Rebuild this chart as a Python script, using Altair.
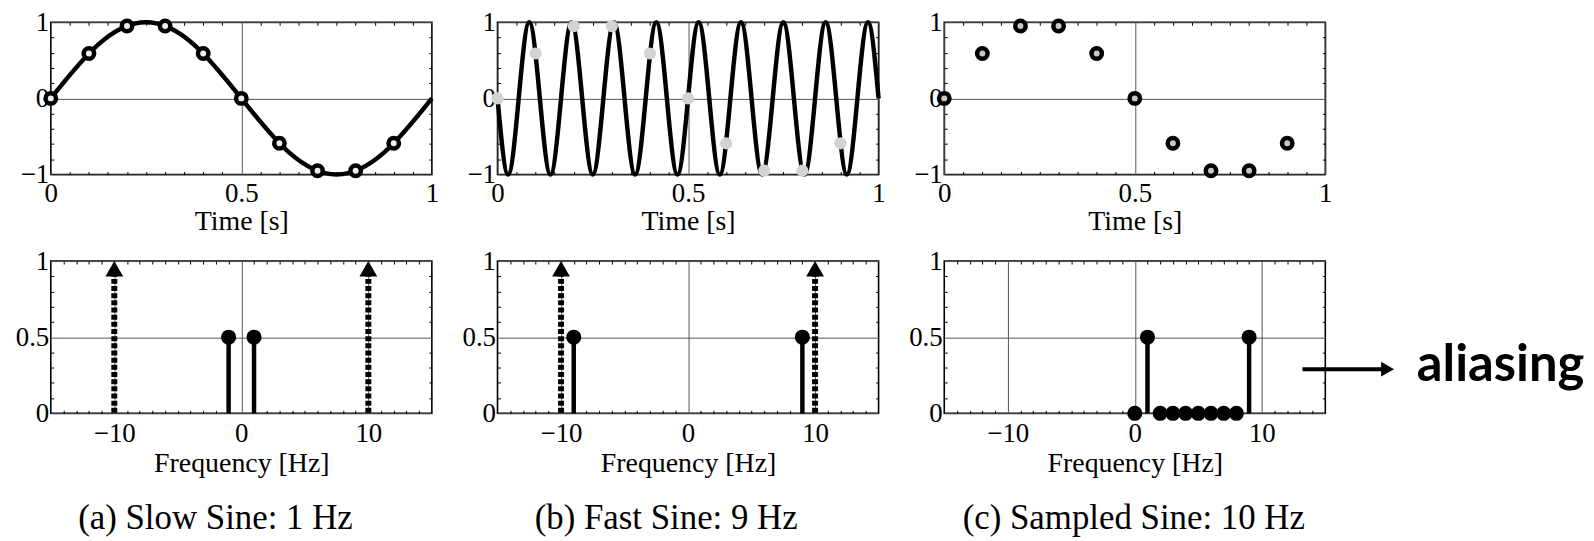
import altair as alt
import pandas as pd

# ---------------- data ----------------
# (a) slow 1 Hz sine, read at 1/8-period steps
t_slow = [0.0, 0.125, 0.25, 0.375, 0.5, 0.625, 0.75, 0.875, 1.0]
x_slow = [0.0, 0.71, 1.0, 0.71, 0.0, -0.71, -1.0, -0.71, 0.0]

# (b) fast 9 Hz sine, read at quarter-period steps
t_fast = [0.0, 0.0278, 0.0556, 0.0833, 0.1111, 0.1389, 0.1667, 0.1944, 0.2222, 0.25,
          0.2778, 0.3056, 0.3333, 0.3611, 0.3889, 0.4167, 0.4444, 0.4722, 0.5,
          0.5278, 0.5556, 0.5833, 0.6111, 0.6389, 0.6667, 0.6944, 0.7222, 0.75,
          0.7778, 0.8056, 0.8333, 0.8611, 0.8889, 0.9167, 0.9444, 0.9722, 1.0]
x_fast = [0, -1, 0, 1, 0, -1, 0, 1, 0, -1, 0, 1, 0, -1, 0, 1, 0, -1, 0,
          1, 0, -1, 0, 1, 0, -1, 0, 1, 0, -1, 0, 1, 0, -1, 0, 1, 0]

# samples taken every 0.1 s
t_samp = [0.0, 0.1, 0.2, 0.3, 0.4, 0.5, 0.6, 0.7, 0.8, 0.9]
x_samp = [0.0, 0.59, 0.95, 0.95, 0.59, 0.0, -0.59, -0.95, -0.95, -0.59]

# spectra
a_freq = [-1, 1]
a_amp = [0.5, 0.5]
b_freq = [-9, 9]
b_amp = [0.5, 0.5]
c_freq = [0, 1, 2, 3, 4, 5, 6, 7, 8, 9]
c_amp = [0, 0.5, 0, 0, 0, 0, 0, 0, 0, 0.5]

# sampling impulses (dotted arrows)
imp_freq = [-10, 10]
imp_top = [0.93, 0.93]
imp_head = [0.95, 0.95]

# annotation
arrow_x = [13.2]
arrow_x2 = [19.5]
arrow_y = [0.29]
arrow_head_x = [19.9]
note_text = ["aliasing"]
note_x = [22.2]
note_y = [0.21]

# axes
time_ticks = [0, 0.5, 1]
amp_ticks = [-1, 0, 1]
freq_ticks = [-10, 0, 10]
mag_ticks = [0, 0.5, 1]
time_minor = [0.05, 0.1, 0.15, 0.2, 0.25, 0.3, 0.35, 0.4, 0.45, 0.55, 0.6,
              0.65, 0.7, 0.75, 0.8, 0.85, 0.9, 0.95]
amp_minor = [-0.8, -0.6, -0.4, -0.2, 0.2, 0.4, 0.6, 0.8]
freq_minor = [-14, -13, -12, -11, -9, -8, -7, -6, -5, -4, -3, -2, -1,
              1, 2, 3, 4, 5, 6, 7, 8, 9, 11, 12, 13, 14]
mag_minor = [0.1, 0.2, 0.3, 0.4, 0.6, 0.7, 0.8, 0.9]

captions = ["(a) Slow Sine: 1 Hz", "(b) Fast Sine: 9 Hz", "(c) Sampled Sine: 10 Hz"]
caption_dx = [-26, -22, -1]

TIME_DOM = [0, 1]
AMP_DOM = [-1, 1]
FREQ_DOM = [-15, 15]
MAG_DOM = [0, 1]

W, H = 383, 153
SERIF = "Liberation Serif"
GRID = "#555555"


def sc(dom):
    return alt.Scale(domain=dom, nice=False, zero=False)


def main_x(values, title, fmt, lpad, tpad):
    return alt.Axis(orient="bottom", values=values, format=fmt, title=title,
                    grid=True, gridColor=GRID, gridWidth=1, ticks=False,
                    domain=False, labelFlush=False, labelOverlap=False,
                    labelPadding=lpad, titlePadding=tpad)


def main_y(values):
    return alt.Axis(orient="left", values=values, format="~g", title=None,
                    grid=True, gridColor=GRID, gridWidth=1, ticks=False,
                    domain=False, labelFlush=False, labelOverlap=False,
                    labelPadding=2)


def minor_axis(orient, values):
    return alt.Axis(orient=orient, values=values, labels=False, grid=False,
                    domain=False, ticks=True, tickSize=3, offset=-3,
                    tickColor="black", tickWidth=1, title=None)


def minor_layers(xdom, ydom, xminor, yminor):
    df = pd.DataFrame({"x": [xdom[0]], "y": [ydom[0]]})
    out = []
    for xo, yo in (("bottom", "left"), ("top", "right")):
        out.append(alt.Chart(df).mark_point(opacity=0).encode(
            x=alt.X("x:Q", scale=sc(xdom), axis=minor_axis(xo, xminor)),
            y=alt.Y("y:Q", scale=sc(ydom), axis=minor_axis(yo, yminor)),
        ))
    return out


def panel(layers, xdom, ydom, xminor, yminor, title=None):
    ch = alt.layer(*layers, *minor_layers(xdom, ydom, xminor, yminor)).resolve_axis(
        x="independent", y="independent").properties(width=W, height=H)
    if title is not None:
        ch = ch.properties(title=title)
    return ch


# ---------------- time-domain panels ----------------
slow_df = pd.DataFrame({"t": t_slow, "v": x_slow})
fast_df = pd.DataFrame({"t": t_fast, "v": x_fast})
samp_df = pd.DataFrame({"t": t_samp, "v": x_samp})


def tx(axis=None):
    return alt.X("t:Q", scale=sc(TIME_DOM), axis=axis)


def ty(axis=None):
    return alt.Y("v:Q", scale=sc(AMP_DOM), axis=axis)


def time_axis():
    return main_x(time_ticks, "Time [s]", "~g", 6, 1)


pa = panel([
    alt.Chart(slow_df).mark_line(color="black", strokeWidth=4.5, interpolate="natural").encode(
        x=tx(time_axis()), y=ty(main_y(amp_ticks))),
    alt.Chart(samp_df).mark_circle(size=110, fill="#eeeeee", opacity=1, stroke="black",
                                   strokeWidth=4.5).encode(x=tx(), y=ty()),
], TIME_DOM, AMP_DOM, time_minor, amp_minor)

pb = panel([
    alt.Chart(fast_df).mark_line(color="black", strokeWidth=4.5, interpolate="natural").encode(
        x=tx(time_axis()), y=ty(main_y(amp_ticks))),
    alt.Chart(samp_df).mark_circle(size=150, fill="#d3d3d3", opacity=1).encode(x=tx(), y=ty()),
], TIME_DOM, AMP_DOM, time_minor, amp_minor)

pc = panel([
    alt.Chart(samp_df).mark_circle(size=110, fill="#c8c8c8", opacity=1, stroke="black",
                                   strokeWidth=4.5).encode(
        x=tx(time_axis()), y=ty(main_y(amp_ticks))),
], TIME_DOM, AMP_DOM, time_minor, amp_minor)


# ---------------- frequency-domain panels ----------------
def fx(axis=None, field="f"):
    return alt.X(f"{field}:Q", scale=sc(FREQ_DOM), axis=axis)


def fy(field="m", axis=None):
    return alt.Y(f"{field}:Q", scale=sc(MAG_DOM), axis=axis)


imp_df = pd.DataFrame({"f": imp_freq, "m": imp_top, "h": imp_head})


def impulse_layers():
    return [
        alt.Chart(imp_df).mark_rule(color="black", strokeWidth=6, strokeDash=[5, 2.2]).encode(
            x=fx(), y=fy("m"), y2=alt.datum(0)),
        alt.Chart(imp_df).mark_point(shape="triangle-up", size=320, filled=True, color="black",
                                     opacity=1).encode(x=fx(), y=fy("h")),
    ]


def stem_layers(freqs, amps):
    df = pd.DataFrame({"f": freqs, "m": amps})
    return [
        alt.Chart(df).mark_rule(color="black", strokeWidth=4.5).encode(
            x=fx(main_x(freq_ticks, "Frequency [Hz]", "d", 7, 4)),
            y=fy("m", main_y(mag_ticks)), y2=alt.datum(0)),
        alt.Chart(df).mark_circle(size=230, color="black", opacity=1).encode(x=fx(), y=fy("m")),
    ]


def cap(i):
    return alt.TitleParams(text=captions[i], orient="bottom", anchor="middle", frame="group",
                           dx=caption_dx[i], offset=23, font=SERIF, fontSize=35,
                           fontWeight="normal", color="black")


qa = panel(stem_layers(a_freq, a_amp) + impulse_layers(), FREQ_DOM, MAG_DOM,
           freq_minor, mag_minor, cap(0))
qb = panel(stem_layers(b_freq, b_amp) + impulse_layers(), FREQ_DOM, MAG_DOM,
           freq_minor, mag_minor, cap(1))

arrow_df = pd.DataFrame({"f": arrow_x, "f2": arrow_x2, "m": arrow_y, "hx": arrow_head_x})
note_df = pd.DataFrame({"f": note_x, "m": note_y, "txt": note_text})

qc = panel(stem_layers(c_freq, c_amp) + [
    alt.Chart(arrow_df).mark_rule(color="black", strokeWidth=4).encode(
        x=fx(), x2="f2:Q", y=fy("m")),
    alt.Chart(arrow_df).mark_point(shape="triangle-right", size=225, filled=True, color="black",
                                   opacity=1).encode(x=fx(field="hx"), y=fy("m")),
    alt.Chart(note_df).mark_text(font="Lato", fontSize=51, fontWeight="bold", align="left",
                                 baseline="alphabetic", color="black").encode(
        x=fx(), y=fy("m"), text="txt:N"),
], FREQ_DOM, MAG_DOM, freq_minor, mag_minor, cap(2))

chart = alt.concat(pa, pb, pc, qa, qb, qc, columns=3,
                   spacing={"row": 87, "column": 66}, bounds="flush").properties(
    padding={"left": 6, "top": -2, "right": 0, "bottom": 0}
).configure_view(stroke="black", strokeWidth=1.6).configure_axis(
    labelFont=SERIF, titleFont=SERIF, labelFontSize=27, titleFontSize=28,
    labelColor="black", titleColor="black", titleFontWeight="normal"
)

chart.save("out.html", embed_options={"renderer": "svg", "actions": False})
